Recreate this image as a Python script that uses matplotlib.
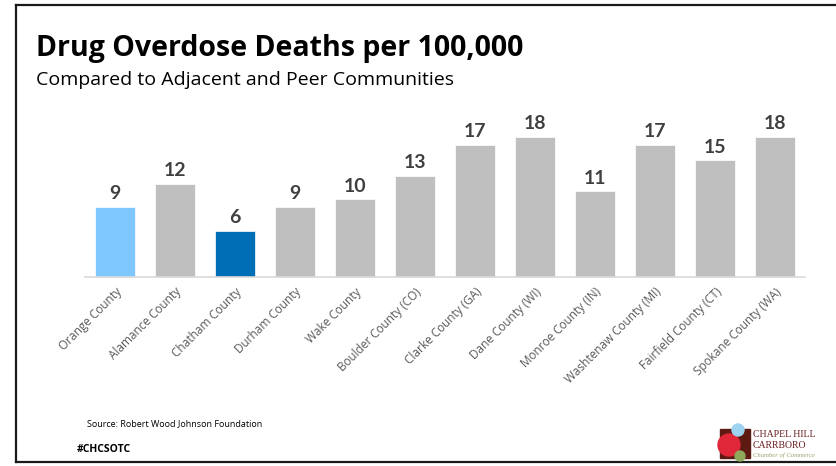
import matplotlib.pyplot as plt
from matplotlib.lines import Line2D
from matplotlib.patches import Rectangle, Circle

# --- Data ---
counties = ["Orange County", "Alamance County", "Chatham County", "Durham County",
            "Wake County", "Boulder County (CO)", "Clarke County (GA)", "Dane County (WI)",
            "Monroe County (IN)", "Washtenaw County (MI)", "Fairfield County (CT)",
            "Spokane County (WA)"]
deaths = [9.0, 12.0, 5.9, 9.0, 10.0, 13.0, 17.0, 18.0, 11.0, 17.0, 15.0, 18.0]
labels = ["9", "12", "6", "9", "10", "13", "17", "18", "11", "17", "15", "18"]
colors = ["#7FC8FF", "#BFBFBF", "#006EB7"] + ["#BFBFBF"] * 9

W, H = 836, 466
fig = plt.figure(figsize=(W / 100, H / 100), dpi=100)

# --- Frame (left, top, bottom) ---
fk = dict(transform=fig.transFigure, color="#1a1a1a", lw=1.6)
fig.add_artist(Line2D([16 / W, 16 / W], [1 - 5 / H, 1 - 462 / H], **fk))
fig.add_artist(Line2D([16 / W, 1.0], [1 - 5 / H, 1 - 5 / H], **fk))
fig.add_artist(Line2D([16 / W, 1.0], [1 - 462 / H, 1 - 462 / H], **fk))

# --- Titles ---
fig.text(36 / W, 1 - 56 / H, "Drug Overdose Deaths per 100,000", fontsize=20.5,
         fontweight="bold", family="Open Sans", color="black", va="baseline")
fig.text(36 / W, 1 - 85 / H, "Compared to Adjacent and Peer Communities", fontsize=14,
         family="Open Sans", color="black", va="baseline")

# --- Bars ---
ax = fig.add_axes([85 / W, (H - 277) / H, 720 / W, (277 - 121.4) / H])
x = range(len(counties))
ax.bar(x, deaths, width=0.667, color=colors, edgecolor="white", linewidth=0.5)
for i, v in enumerate(deaths):
    ax.text(i, v + 0.6, labels[i], ha="center", va="bottom", fontsize=14,
            fontweight="bold", family="Lato", color="#404040")

ax.set_xlim(-0.5, len(counties) - 0.5)
ax.set_ylim(0, 20)
ax.set_yticks([])
ax.set_xticks(list(x))
ax.set_xticklabels(counties, rotation=45, ha="right", rotation_mode="anchor",
                   fontsize=8.5, family="Open Sans", color="#595959")
ax.tick_params(axis="x", length=0, pad=6)
for s in ["top", "right", "left"]:
    ax.spines[s].set_visible(False)
ax.spines["bottom"].set_color("#D9D9D9")
ax.spines["bottom"].set_linewidth(1.2)

# --- Footer ---
fig.text(87 / W, 1 - 426 / H, "Source: Robert Wood Johnson Foundation", fontsize=6.5,
         family="Open Sans", color="black", va="baseline")
fig.text(77 / W, 1 - 452 / H, "#CHCSOTC", fontsize=7.5, fontweight="bold",
         family="Open Sans", color="black", va="baseline")

# --- Logo ---
lg = fig.add_axes([0, 0, 1, 1], zorder=5)
lg.set_xlim(0, W)
lg.set_ylim(H, 0)
lg.axis("off")
lg.add_patch(Rectangle((720, 429), 30, 29, color="#5C1A12"))
lg.add_patch(Circle((729, 445), 11, color="#E0283A"))
lg.add_patch(Circle((738, 430), 6, color="#9DD3F0"))
lg.add_patch(Circle((740, 456), 5, color="#8FA85A"))
lg.text(753, 437, "CHAPEL HILL", fontsize=7, family="Liberation Serif",
        color="#6B1E1E", va="baseline")
lg.text(753, 448, "CARRBORO", fontsize=7, family="Liberation Serif",
        color="#6B1E1E", va="baseline")
lg.text(753, 457, "Chamber of Commerce", fontsize=4.8, family="Liberation Serif",
        style="italic", color="#9AA06A", va="baseline")

fig.savefig("out.png", dpi=100)
